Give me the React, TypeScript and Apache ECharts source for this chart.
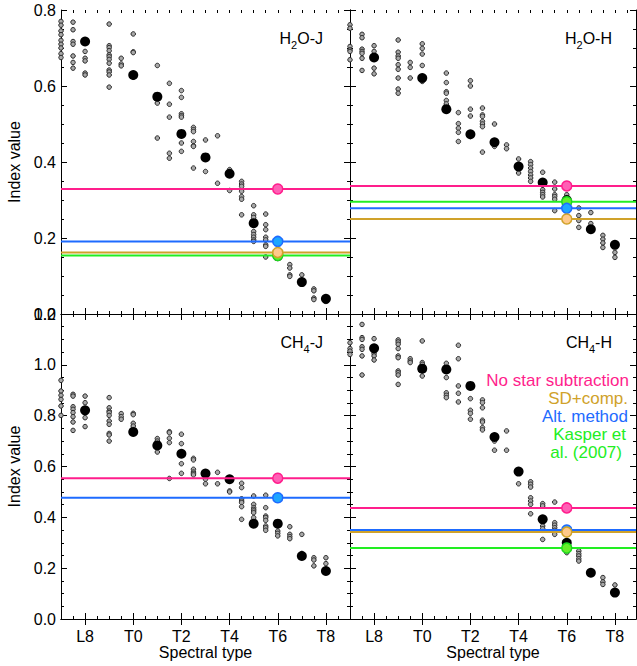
import React, { useEffect, useRef } from 'react';
import * as echarts from 'echarts';

const FONT = "'Liberation Sans', Arial, Helvetica, sans-serif";

// Spectral type encoding: L7 = 17, L8 = 18, T0 = 20, ... T8 = 28
const tickPositions = [18, 20, 22, 24, 26, 28];
const tickLabels = ['L8', 'T0', 'T2', 'T4', 'T6', 'T8'];

// ---------- H2O-J ----------
const h2oJSmall: [number, number[]][] = [
  [17, [0.77, 0.76, 0.745, 0.735, 0.72, 0.71, 0.7, 0.685, 0.675]],
  [17.5, [0.768, 0.748, 0.717, 0.71, 0.679, 0.662, 0.647]],
  [18, [0.691, 0.673, 0.666, 0.634, 0.629]],
  [19, [0.763, 0.706, 0.701, 0.693, 0.682, 0.677, 0.67, 0.66, 0.642, 0.637, 0.629, 0.597]],
  [19.5, [0.673, 0.658, 0.653]],
  [20, [0.737, 0.69, 0.688, 0.629, 0.623]],
  [21, [0.654, 0.564, 0.555, 0.463]],
  [21.5, [0.607, 0.552, 0.518, 0.423, 0.41]],
  [22, [0.588, 0.57, 0.527, 0.522, 0.518, 0.45, 0.428]],
  [22.5, [0.491, 0.485, 0.48, 0.454, 0.443, 0.441, 0.384]],
  [23, [0.458, 0.375]],
  [23.5, [0.469, 0.344]],
  [24, [0.38, 0.325]],
  [24.5, [0.349, 0.342, 0.336, 0.323, 0.309, 0.302, 0.261]],
  [25, [0.285, 0.261, 0.254, 0.217, 0.209, 0.202, 0.195, 0.191]],
  [25.5, [0.263, 0.235, 0.222, 0.202, 0.195, 0.182, 0.178, 0.15]],
  [26, [0.147]],
  [26.5, [0.13, 0.121, 0.103, 0.099]],
  [27, [0.103]],
  [27.5, [0.066, 0.061, 0.042, 0.038]],
  [28, [0.033]],
];
const h2oJMean: [number, number][] = [
  [18, 0.717], [20, 0.629], [21, 0.572], [22, 0.474], [23, 0.412],
  [24, 0.369], [25, 0.239], [26, 0.152], [27, 0.084], [28, 0.04],
];
const h2oJLines = { green: 0.154, blue: 0.191, gold: 0.162, pink: 0.329 };

// ---------- H2O-H ----------
const h2oHSmall: [number, number[]][] = [
  [17, [0.761, 0.752, 0.704, 0.695, 0.691, 0.669]],
  [17.5, [0.736, 0.727, 0.697, 0.691, 0.686, 0.673, 0.641]],
  [18, [0.706, 0.691, 0.647, 0.632]],
  [19, [0.721, 0.689, 0.679, 0.673, 0.656, 0.644, 0.621, 0.592, 0.581]],
  [19.5, [0.662, 0.649, 0.621]],
  [20, [0.711, 0.699, 0.684, 0.654, 0.612]],
  [21, [0.634, 0.609, 0.585, 0.581, 0.562, 0.553]],
  [21.5, [0.53, 0.501, 0.489, 0.478, 0.454]],
  [22, [0.614, 0.6, 0.539, 0.521, 0.467]],
  [22.5, [0.542, 0.524, 0.52, 0.507, 0.5, 0.493, 0.426]],
  [23, [0.5, 0.441]],
  [23.5, [0.445, 0.435]],
  [24, [0.408, 0.371]],
  [24.5, [0.401, 0.393, 0.384, 0.375, 0.366, 0.358, 0.349]],
  [25, [0.373, 0.327, 0.32, 0.314, 0.308]],
  [25.5, [0.347, 0.329, 0.314, 0.309, 0.302, 0.272]],
  [26, [0.314]],
  [26.5, [0.279, 0.259, 0.246, 0.228]],
  [27, [0.267, 0.238]],
  [27.5, [0.207, 0.197, 0.187, 0.175]],
  [28, [0.162, 0.149]],
];
const h2oHMean: [number, number][] = [
  [18, 0.675], [20, 0.621], [21, 0.539], [22, 0.473], [23, 0.452],
  [24, 0.388], [25, 0.346], [26, 0.3], [27, 0.223], [28, 0.182],
];
const h2oHLines = { green: 0.2955, blue: 0.278, gold: 0.25, pink: 0.337 };

// ---------- CH4-J ----------
const ch4JSmall: [number, number[]][] = [
  [17, [0.939, 0.897, 0.88, 0.864, 0.838, 0.801]],
  [17.5, [0.884, 0.877, 0.835, 0.825, 0.812, 0.796, 0.775, 0.742]],
  [18, [0.877, 0.851, 0.792, 0.757]],
  [19, [0.871, 0.831, 0.818, 0.812, 0.801, 0.779, 0.766, 0.73, 0.724, 0.7]],
  [19.5, [0.808, 0.796, 0.786]],
  [20, [0.809, 0.804, 0.77, 0.759]],
  [21, [0.71, 0.7, 0.657]],
  [21.5, [0.737, 0.733, 0.711, 0.694, 0.553]],
  [22, [0.727, 0.69, 0.611, 0.573]],
  [22.5, [0.632, 0.626, 0.589, 0.578, 0.572, 0.567]],
  [23, [0.55, 0.532]],
  [23.5, [0.577, 0.532]],
  [24, [0.504, 0.5]],
  [24.5, [0.534, 0.517, 0.473, 0.464, 0.458, 0.442, 0.392]],
  [25, [0.484, 0.451, 0.438, 0.431, 0.425, 0.418, 0.399]],
  [25.5, [0.487, 0.438, 0.405, 0.399, 0.388, 0.366, 0.359, 0.349]],
  [26, [0.346, 0.337, 0.327]],
  [26.5, [0.363, 0.333, 0.324, 0.316]],
  [27, [0.333, 0.258]],
  [27.5, [0.241, 0.232, 0.209]],
  [28, [0.241, 0.218]],
];
const ch4JMean: [number, number][] = [
  [18, 0.821], [20, 0.736], [21, 0.683], [22, 0.65], [23, 0.572],
  [24, 0.55], [25, 0.375], [26, 0.375], [27, 0.248], [28, 0.189],
];
const ch4JLines = { blue: 0.477, pink: 0.554 };

// ---------- CH4-H ----------
const ch4HSmall: [number, number[]][] = [
  [17, [1.087, 1.064, 1.054, 1.041]],
  [17.5, [1.159, 1.107, 1.1, 1.071, 1.061, 1.035, 0.96]],
  [18, [1.103, 1.044, 1.035, 1.019]],
  [19, [1.098, 1.09, 1.081, 1.064, 1.035, 1.028, 0.976, 0.969, 0.96, 0.923]],
  [19.5, [1.024, 1.015, 1.009]],
  [20, [1.094, 1.009, 1.002, 0.956]],
  [21, [1.006, 0.95, 0.89, 0.88, 0.871]],
  [21.5, [1.077, 1.024, 0.917, 0.888, 0.854]],
  [22, [0.867, 0.821, 0.809, 0.786]],
  [22.5, [0.862, 0.851, 0.831, 0.782, 0.775, 0.753, 0.744]],
  [23, [0.7, 0.664]],
  [23.5, [0.74, 0.664]],
  [24, [0.532]],
  [24.5, [0.54, 0.53, 0.519, 0.477, 0.464, 0.451, 0.414]],
  [25, [0.454, 0.445, 0.366, 0.355, 0.313]],
  [25.5, [0.46, 0.379, 0.369, 0.359, 0.349, 0.333]],
  [26, [0.261]],
  [26.5, [0.268, 0.257, 0.248, 0.237, 0.228]],
  [27.5, [0.163, 0.146, 0.136]],
  [28, [0.134]],
];
const ch4HMean: [number, number][] = [
  [18, 1.065], [20, 0.985], [21, 0.982], [22, 0.917], [23, 0.716],
  [24, 0.58], [25, 0.392], [26, 0.3], [27, 0.182], [28, 0.104],
];
const ch4HLines = { green: 0.279, blue: 0.35, gold: 0.342, pink: 0.437 };

const methodStyles: Record<string, { line: string; fill: string; border: string; label: string }> = {
  green: { line: '#22ee22', fill: '#66ee2a', border: '#1ed81e', label: 'Kasper et al. (2007)' },
  blue: { line: '#1e6bff', fill: '#1ea6ff', border: '#1e6bff', label: 'Alt. method' },
  gold: { line: '#d0a22a', fill: '#ffc98a', border: '#d0a22a', label: 'SD+comp.' },
  pink: { line: '#ff1e8c', fill: '#ff5fb5', border: '#ff1e8c', label: 'No star subtraction' },
};
const methodOrder = ['green', 'blue', 'gold', 'pink'];
const markerType = 26; // T6

function flatten(cols: [number, number[]][]): [number, number][] {
  const out: [number, number][] = [];
  cols.forEach(([x, vs]) => vs.forEach((v) => out.push([x, v])));
  return out;
}

const panels = [
  { grid: { left: 61, top: 10, width: 289, height: 304 }, xmax: 29, ymax: 0.8, xLabels: false, yLabels: true,
    small: h2oJSmall, mean: h2oJMean, lines: h2oJLines as Record<string, number> },
  { grid: { left: 350, top: 10, width: 286, height: 304 }, xmax: 28.875, ymax: 0.8, xLabels: false, yLabels: false,
    small: h2oHSmall, mean: h2oHMean, lines: h2oHLines as Record<string, number> },
  { grid: { left: 61, top: 314, width: 289, height: 305 }, xmax: 29, ymax: 1.2, xLabels: true, yLabels: true,
    small: ch4JSmall, mean: ch4JMean, lines: ch4JLines as Record<string, number> },
  { grid: { left: 350, top: 314, width: 286, height: 305 }, xmax: 28.875, ymax: 1.2, xLabels: true, yLabels: false,
    small: ch4HSmall, mean: ch4HMean, lines: ch4HLines as Record<string, number> },
];

const panelTitles = [
  { main1: 'H', sub: '2', main2: 'O-J', x: 323, y: 30 },
  { main1: 'H', sub: '2', main2: 'O-H', x: 612, y: 30 },
  { main1: 'CH', sub: '4', main2: '-J', x: 323, y: 334 },
  { main1: 'CH', sub: '4', main2: '-H', x: 612, y: 334 },
];

const legendLines = [
  { text: 'No star subtraction', key: 'pink', x: 629, y: 380 },
  { text: 'SD+comp.', key: 'gold', x: 628, y: 398 },
  { text: 'Alt. method', key: 'blue', x: 628, y: 416 },
  { text: 'Kasper et', key: 'green', x: 626, y: 434 },
  { text: 'al. (2007)', key: 'green', x: 622, y: 452 },
];

export default function App() {
  const ref = useRef<HTMLDivElement>(null);

  useEffect(() => {
    if (!ref.current) return;
    const chart = echarts.init(ref.current, undefined, { renderer: 'svg' });

    const axisLine = { show: true, lineStyle: { color: '#000', width: 1 } };
    const xAxes: any[] = [];
    const yAxes: any[] = [];
    const series: any[] = [];

    panels.forEach((p, i) => {
      const labelMap = (v: number) => {
        const k = tickPositions.indexOf(Math.round(v));
        return k >= 0 && Math.abs(v - tickPositions[k]) < 1e-6 ? tickLabels[k] : '';
      };
      xAxes.push({
        gridIndex: i, type: 'value', position: 'bottom', min: 17, max: p.xmax,
        axisLine, splitLine: { show: false },
        axisTick: { show: true, inside: true, length: 6, customValues: tickPositions, lineStyle: { color: '#000' } },
        axisLabel: {
          show: p.xLabels, customValues: tickPositions, formatter: labelMap,
          color: '#000', fontSize: 16, fontFamily: FONT, margin: 9,
        },
        name: p.xLabels ? 'Spectral type' : '', nameLocation: 'middle', nameGap: 25,
        nameTextStyle: { color: '#000', fontSize: 16, fontFamily: FONT },
      });
      xAxes.push({
        gridIndex: i, type: 'value', position: 'top', min: 17, max: p.xmax,
        axisLine, splitLine: { show: false },
        axisTick: { show: true, inside: true, length: 6, customValues: tickPositions, lineStyle: { color: '#000' } },
        axisLabel: { show: false },
      });
      ['bottom', 'top'].forEach((pos) => {
        xAxes.push({
          gridIndex: i, type: 'value', position: pos, min: 17, max: p.xmax, interval: 0.5,
          axisLine: { show: false }, splitLine: { show: false },
          axisTick: { show: true, inside: true, length: 3, lineStyle: { color: '#000' } },
          axisLabel: { show: false },
        });
      });
      ['left', 'right'].forEach((pos) => {
        const isLeft = pos === 'left';
        yAxes.push({
          gridIndex: i, type: 'value', position: pos, min: 0, max: p.ymax, interval: 0.2,
          axisLine, splitLine: { show: false },
          axisTick: { show: true, inside: true, length: 6, lineStyle: { color: '#000' } },
          minorTick: { show: true, splitNumber: 4, length: 3, lineStyle: { color: '#000' } },
          axisLabel: {
            show: isLeft && p.yLabels, formatter: (v: number) => v.toFixed(1),
            color: '#000', fontSize: 16, fontFamily: FONT, margin: 5,
          },
          name: isLeft && p.yLabels ? 'Index value' : '', nameLocation: 'middle', nameGap: 39,
          nameRotate: 90,
          nameTextStyle: { color: '#000', fontSize: 16, fontFamily: FONT },
        });
      });

      const xi = i * 4;
      const yi = i * 2;
      series.push({
        type: 'scatter', xAxisIndex: xi, yAxisIndex: yi, data: flatten(p.small),
        symbol: 'circle', symbolSize: 4.5, z: 2,
        itemStyle: { color: '#a8a8a8', borderColor: '#2a2a2a', borderWidth: 1, opacity: 1 },
      });
      series.push({
        type: 'scatter', xAxisIndex: xi, yAxisIndex: yi, data: p.mean,
        symbol: 'circle', symbolSize: 10, z: 3,
        itemStyle: { color: '#000', opacity: 1 },
      });
      methodOrder.forEach((key) => {
        const v = p.lines[key];
        if (v === undefined) return;
        const st = methodStyles[key];
        series.push({
          type: 'line', xAxisIndex: xi, yAxisIndex: yi, data: [[17, v], [p.xmax, v]],
          showSymbol: false, symbol: 'none', z: 4,
          lineStyle: { color: st.line, width: 2 },
        });
      });
      methodOrder.forEach((key) => {
        const v = p.lines[key];
        if (v === undefined) return;
        const st = methodStyles[key];
        series.push({
          type: 'scatter', xAxisIndex: xi, yAxisIndex: yi, data: [[markerType, v]],
          symbol: 'circle', symbolSize: 10, z: 6,
          itemStyle: { color: st.fill, borderColor: st.border, borderWidth: 1.5, opacity: 1 },
        });
      });
    });

    const graphic: any[] = [];
    panelTitles.forEach((t) => {
      graphic.push({
        type: 'text', x: t.x, y: t.y, z: 10,
        style: {
          text: `{a|${t.main1}}{s|${t.sub}}{a|${t.main2}}`,
          align: 'right', verticalAlign: 'top', fill: '#000',
          rich: {
            a: { fontSize: 16, fontFamily: FONT, lineHeight: 18, verticalAlign: 'top', fill: '#000' },
            s: { fontSize: 11, fontFamily: FONT, lineHeight: 11, padding: [9, 0, 0, 0], verticalAlign: 'top', fill: '#000' },
          },
        },
      });
    });
    legendLines.forEach((l) => {
      graphic.push({
        type: 'text', x: l.x, y: l.y, z: 10,
        style: {
          text: l.text, fill: methodStyles[l.key].line, font: `17px ${FONT}`,
          align: 'right', verticalAlign: 'middle',
        },
      });
    });

    chart.setOption({
      animation: false,
      backgroundColor: '#fff',
      grid: panels.map((p) => ({ ...p.grid, containLabel: false })),
      xAxis: xAxes,
      yAxis: yAxes,
      series,
      graphic,
    });

    return () => chart.dispose();
  }, []);

  return (
    <div
      ref={ref}
      style={{ position: 'absolute', left: 0, top: 0, width: 637, height: 666, background: '#fff' }}
    />
  );
}
